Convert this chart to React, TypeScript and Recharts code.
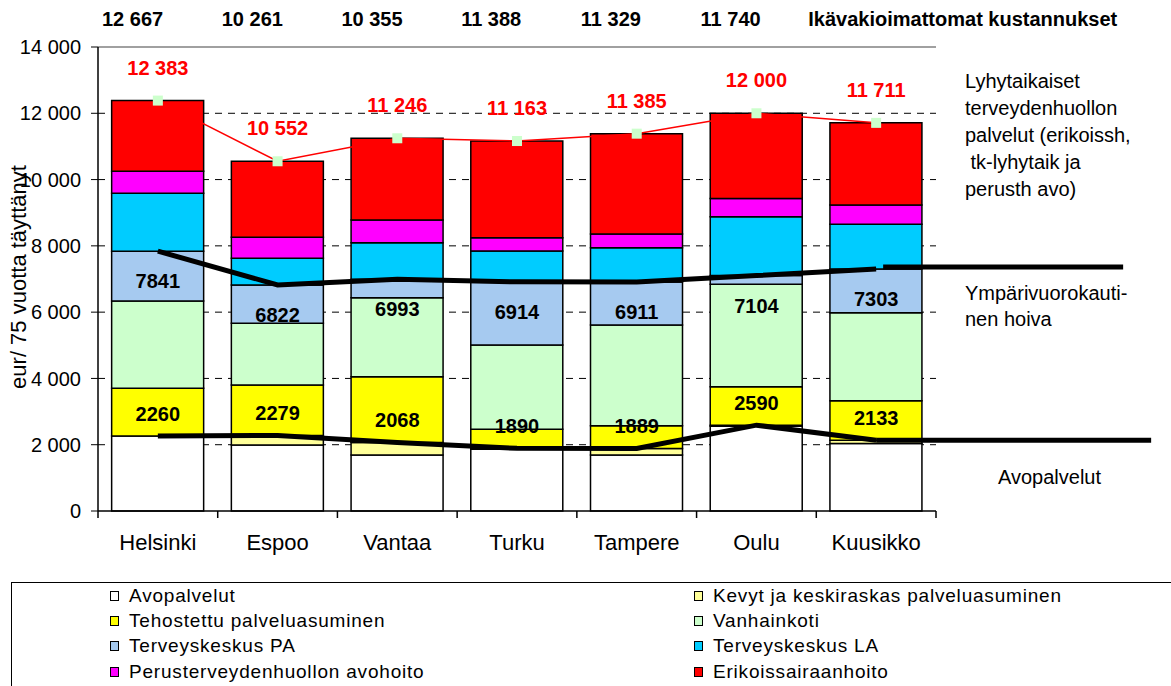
import { Bar, CartesianGrid, ComposedChart, LabelList, Line, XAxis, YAxis } from 'recharts'

const FONT = '"Liberation Sans", Arial, sans-serif'

const cities = ['Helsinki', 'Espoo', 'Vantaa', 'Turku', 'Tampere', 'Oulu', 'Kuusikko']

// stacked cost components, eur per inhabitant aged 75+
const avopalvelut = [2260, 1990, 1689, 1860, 1689, 2560, 2040]
const kevytPalveluasuminen = [0, 289, 379, 30, 200, 30, 93]
const tehostettuPalveluasuminen = [1440, 1522, 1983, 575, 684, 1160, 1194]
const vanhainkoti = [2634, 1861, 2384, 2543, 3038, 3088, 2655]
const terveyskeskusPA = [1507, 1160, 558, 1906, 1300, 266, 1321]
const terveyskeskusLA = [1750, 801, 1101, 929, 1032, 1774, 1346]
const perusAvohoito = [660, 634, 684, 402, 413, 549, 582]
const erikoissairaanhoito = [2132, 2295, 2468, 2918, 3029, 2573, 2480]

// line series
const avoLine = [2260, 2279, 2068, 1890, 1889, 2590, 2133]
const ymparivuorokautinen = [7841, 6822, 6993, 6914, 6911, 7104, 7303]
const totals = [12383, 10552, 11246, 11163, 11385, 12000, 11711]
const unadjusted = [12667, 10261, 10355, 11388, 11329, 11740, null]
const unadjustedTitle = 'Ikävakioimattomat kustannukset'

const yTicks = [0, 2000, 4000, 6000, 8000, 10000, 12000, 14000]
const gridValues = [2000, 4000, 6000, 8000, 10000, 12000]

const seriesNames = [
  'Avopalvelut',
  'Kevyt ja keskiraskas palveluasuminen',
  'Tehostettu palveluasuminen',
  'Vanhainkoti',
  'Terveyskeskus PA',
  'Terveyskeskus LA',
  'Perusterveydenhuollon avohoito',
  'Erikoissairaanhoito',
]
const seriesColors = ['#ffffff', '#ffff99', '#ffff00', '#ccffcc', '#a6caf0', '#00ccff', '#ff00ff', '#ff0000']
const seriesValues = [
  avopalvelut,
  kevytPalveluasuminen,
  tehostettuPalveluasuminen,
  vanhainkoti,
  terveyskeskusPA,
  terveyskeskusLA,
  perusAvohoito,
  erikoissairaanhoito,
]

const data = cities.map((city, i) => {
  const row: Record<string, string | number | null> = {
    city,
    avoLine: avoLine[i],
    ympari: ymparivuorokautinen[i],
    total: totals[i],
  }
  seriesValues.forEach((vals, s) => {
    row[`s${s}`] = vals[i]
  })
  return row
})

const fmt = (v: number) => String(v).replace(/\B(?=(\d{3})+(?!\d))/g, ' ')

const PLOT_LEFT = 98
const PLOT_RIGHT = 936
const halfBand = (payload: any) => payload?.offset || (PLOT_RIGHT - PLOT_LEFT) / cities.length / 2

function CityTick(props: any) {
  const { x, y, payload } = props
  const index = props.index ?? payload.index
  const half = halfBand(payload)
  return (
    <g>
      <line x1={x - half} x2={x - half} y1={y} y2={y + 7} stroke="#000" strokeWidth={1.5} />
      {index === cities.length - 1 && <line x1={x + half} x2={x + half} y1={y} y2={y + 7} stroke="#000" strokeWidth={1.5} />}
      <text x={x} y={y + 39} textAnchor="middle" fontSize={22} fontFamily={FONT} fill="#000">
        {payload.value}
      </text>
    </g>
  )
}

function TopTick(props: any) {
  const { x, y, payload } = props
  const index = props.index ?? payload.index
  const half = halfBand(payload)
  const v = unadjusted[index]
  if (v == null) {
    return (
      <text x={x - half - 8} y={y - 21} fontSize={20} fontWeight="bold" fontFamily={FONT} fill="#000">
        {unadjustedTitle}
      </text>
    )
  }
  return (
    <text x={x - half + 4} y={y - 21} fontSize={20} fontWeight="bold" fontFamily={FONT} fill="#000">
      {fmt(v)}
    </text>
  )
}

const blackLabel = (dy: number, extFrom: number, extTo: number, extDy: number) => (props: any) => {
  const { x, y, value, index } = props
  return (
    <g key={`bl-${index}`}>
      <text x={x} y={y + dy} textAnchor="middle" dominantBaseline="central" fontSize={20} fontWeight="bold" fontFamily={FONT} fill="#000">
        {value}
      </text>
      {index === cities.length - 1 && (
        <line x1={x + extFrom} x2={x + extTo} y1={y + extDy} y2={y + extDy} stroke="#000" strokeWidth={5} />
      )}
    </g>
  )
}

const totalLabel = (props: any) => {
  const { x, y, value, index } = props
  return (
    <text key={`tl-${index}`} x={x} y={y - 33} textAnchor="middle" dominantBaseline="central" fontSize={20} fontWeight="bold" fontFamily={FONT} fill="#ff0000">
      {fmt(value)}
    </text>
  )
}

const SquareDot = (props: any) => {
  const { cx, cy, index } = props
  return <rect key={`d-${index}`} x={cx - 5} y={cy - 5} width={10} height={10} fill="#ccffcc" />
}

export default function App() {
  return (
    <div style={{ position: 'absolute', left: 0, top: 0, width: 1171, height: 686, overflow: 'hidden', background: '#fff', fontFamily: FONT }}>
      <ComposedChart width={1171} height={575} data={data} margin={{ top: 0, right: 235, bottom: 14, left: 0 }} barCategoryGap="11.4%">
        <CartesianGrid vertical={false} horizontalValues={gridValues} stroke="#000" strokeDasharray="7 6" />
        <XAxis dataKey="city" interval={0} height={50} tickSize={0} tickMargin={0} tickLine={false} axisLine={{ stroke: '#000', strokeWidth: 1.5 }} tick={CityTick} />
        <XAxis xAxisId="top" orientation="top" dataKey="city" interval={0} height={47} tickSize={0} tickMargin={0} tickLine={false} axisLine={{ stroke: '#808080', strokeWidth: 1.5 }} tick={TopTick} />
        <YAxis
          domain={[0, 14000]}
          ticks={yTicks}
          tickFormatter={fmt}
          width={98}
          tickSize={7}
          tickMargin={10}
          axisLine={{ stroke: '#000', strokeWidth: 1.5 }}
          tickLine={{ stroke: '#000' }}
          tick={{ fontSize: 20, fill: '#000', fontFamily: FONT }}
        />
        <YAxis yAxisId="right" orientation="right" width={0} domain={[0, 14000]} tick={false} tickLine={false} axisLine={{ stroke: '#808080', strokeWidth: 1.5 }} />
        {seriesNames.map((name, s) => (
          <Bar key={name} name={name} dataKey={`s${s}`} stackId="a" fill={seriesColors[s]} stroke="#000" strokeWidth={1.5} isAnimationActive={false} />
        ))}
        <Line dataKey="total" type="linear" stroke="#ff0000" strokeWidth={1.5} dot={SquareDot} activeDot={false} isAnimationActive={false}>
          <LabelList dataKey="total" content={totalLabel} />
        </Line>
        <Line dataKey="avoLine" type="linear" stroke="#000" strokeWidth={5} dot={false} activeDot={false} isAnimationActive={false}>
          <LabelList dataKey="avoLine" content={blackLabel(-22, 0, 275, 0)} />
        </Line>
        <Line dataKey="ympari" type="linear" stroke="#000" strokeWidth={5} dot={false} activeDot={false} isAnimationActive={false}>
          <LabelList dataKey="ympari" content={blackLabel(30, 7, 247, -2)} />
        </Line>
      </ComposedChart>

      <svg style={{ position: 'absolute', left: 0, top: 0 }} width={40} height={575}>
        <text transform="translate(26, 277) rotate(-90)" textAnchor="middle" fontSize={22} fontFamily={FONT} fill="#000">
          eur/ 75 vuotta täyttänyt
        </text>
      </svg>

      <div style={{ position: 'absolute', left: 965, top: 68, fontSize: 20, lineHeight: '27px', whiteSpace: 'pre', color: '#000' }}>
        {'Lyhytaikaiset\nterveydenhuollon\npalvelut (erikoissh,\n tk-lyhytaik ja\nperusth avo)'}
      </div>
      <div style={{ position: 'absolute', left: 965, top: 280, fontSize: 20, lineHeight: '26px', whiteSpace: 'pre', color: '#000' }}>
        {'Ympärivuorokauti-\nnen hoiva'}
      </div>
      <div style={{ position: 'absolute', left: 998, top: 464, fontSize: 20, lineHeight: '27px', color: '#000' }}>Avopalvelut</div>

      <div
        style={{
          position: 'absolute',
          left: 11,
          top: 582,
          width: 1200,
          height: 200,
          border: '1px solid #000',
          boxSizing: 'border-box',
        }}
      >
        <div style={{ display: 'grid', gridTemplateColumns: '584px auto', paddingLeft: 98, paddingTop: 0 }}>
          {seriesNames.map((name, s) => (
            <div key={name} style={{ height: 25.3, display: 'flex', alignItems: 'center', fontSize: 19, letterSpacing: 0.8, whiteSpace: 'nowrap' }}>
              <span style={{ display: 'inline-block', width: 7, height: 8, border: '1px solid #000', background: seriesColors[s], marginRight: 10 }} />
              {name}
            </div>
          ))}
        </div>
      </div>
    </div>
  )
}
